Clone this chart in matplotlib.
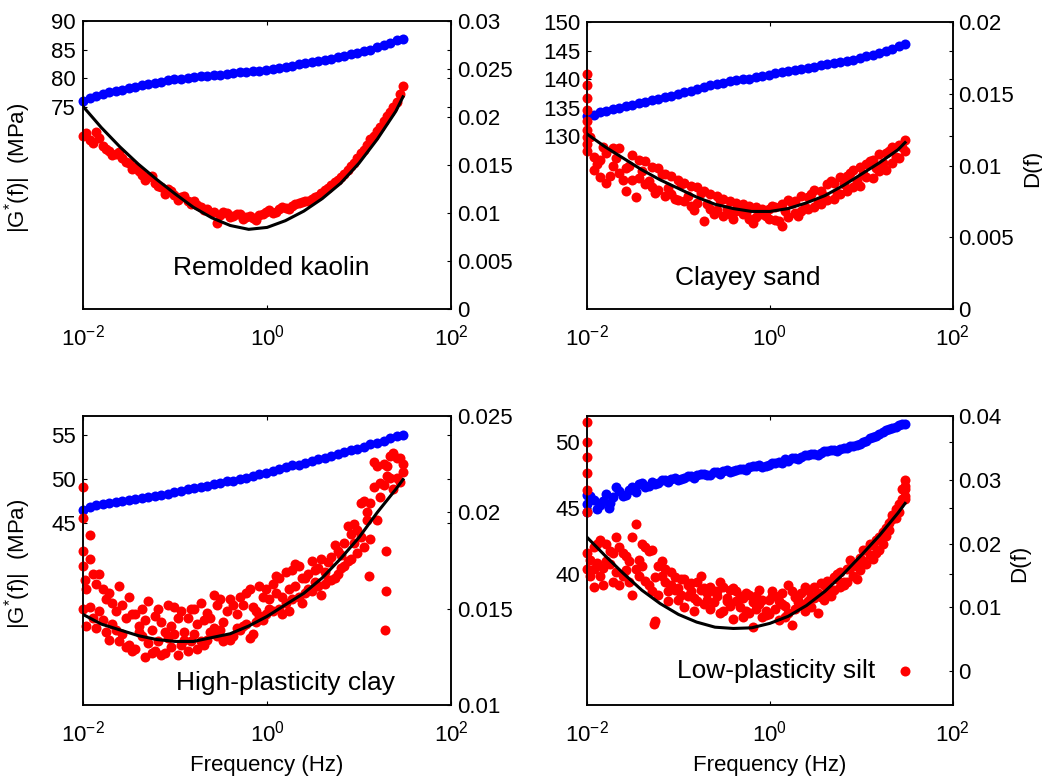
import matplotlib
matplotlib.use('Agg')
from matplotlib import pyplot as plt

plt.rcParams['font.family'] = ['Liberation Sans', 'DejaVu Sans']
plt.rcParams['mathtext.fontset'] = 'custom'
plt.rcParams['mathtext.rm'] = 'Liberation Sans'
plt.rcParams['mathtext.it'] = 'Liberation Sans:italic'

# frequency grid of the measurements (Hz)
freq = [0.0100, 0.0118, 0.0139, 0.0163, 0.0192, 0.0226, 0.0267, 0.0314, 0.0370, 0.0436,
        0.0513, 0.0604, 0.0711, 0.0838, 0.0986, 0.116, 0.137, 0.161, 0.190, 0.223,
        0.263, 0.310, 0.365, 0.430, 0.506, 0.596, 0.701, 0.826, 0.973, 1.15,
        1.35, 1.59, 1.87, 2.20, 2.59, 3.05, 3.60, 4.24, 4.99, 5.87,
        6.92, 8.15, 9.59, 11.3, 13.3, 15.7, 18.5, 21.7, 25.6, 30.0]
freq_mid = [0.01085, 0.01278, 0.01505, 0.01772, 0.02087, 0.02458, 0.02894, 0.03408, 0.04013, 0.04725,
            0.05564, 0.06552, 0.07716, 0.09086, 0.1070, 0.1260, 0.1484, 0.1747, 0.2058, 0.2423,
            0.2853, 0.3360, 0.3957, 0.4660, 0.5488, 0.6462, 0.7610, 0.8962, 1.055, 1.243,
            1.464, 1.724, 2.030, 2.391, 2.815, 3.315, 3.904, 4.597, 5.414, 6.376,
            7.508, 8.842, 10.41, 12.26, 14.44, 17.00, 20.02, 23.58, 27.77]
fit_freq = [0.01, 0.0158, 0.0251, 0.0398, 0.0631, 0.1, 0.158, 0.251, 0.398, 0.631,
            1.0, 1.58, 2.51, 3.98, 6.31, 10.0, 15.8, 25.1, 30.0]

names = ['Remolded kaolin', 'Clayey sand', 'High-plasticity clay', 'Low-plasticity silt']

# ---- Remolded kaolin
g1 = [76.0, 76.5, 76.9, 77.2, 77.5, 77.8, 78.0, 78.3, 78.5, 78.8, 79.0, 79.2, 79.4, 79.6, 79.8,
      79.9, 80.0, 80.2, 80.3, 80.4, 80.5, 80.6, 80.8, 80.9, 81.0, 81.1, 81.2, 81.3, 81.4, 81.6,
      81.8, 82.0, 82.2, 82.4, 82.6, 82.8, 83.0, 83.2, 83.4, 83.7, 83.9, 84.2, 84.4, 84.7, 85.0,
      85.4, 85.8, 86.2, 86.6, 86.8]
d1a = [0.0180, 0.0176, 0.0184, 0.0170, 0.0165, 0.0161, 0.0157, 0.0152, 0.0148, 0.0140,
       0.0137, 0.0131, 0.0127, 0.0125, 0.0119, 0.0117, 0.0112, 0.0113, 0.0106, 0.0104,
       0.0101, 0.0098, 0.0100, 0.0097, 0.0099, 0.0096, 0.0095, 0.0098, 0.0101, 0.0100,
       0.0104, 0.0105, 0.0107, 0.0110, 0.0112, 0.0115, 0.0118, 0.0124, 0.0129, 0.0134,
       0.0141, 0.0149, 0.0157, 0.0166, 0.0177, 0.0185, 0.0196, 0.0205, 0.0216, 0.0232]
d1b = [0.0183, 0.0173, 0.0178, 0.0167, 0.0160, 0.0164, 0.0153, 0.0146, 0.0144, 0.0134,
       0.0139, 0.0128, 0.0120, 0.0123, 0.0114, 0.0118, 0.0109, 0.0108, 0.0103, 0.0101,
       0.0090, 0.0101, 0.0096, 0.0099, 0.0094, 0.0097, 0.0093, 0.0099, 0.0103, 0.0101,
       0.0106, 0.0104, 0.0109, 0.0111, 0.0113, 0.0117, 0.0121, 0.0126, 0.0132, 0.0138,
       0.0145, 0.0152, 0.0162, 0.0171, 0.0180, 0.0190, 0.0201, 0.0210, 0.0224]
fit1 = [0.0211, 0.0189, 0.0169, 0.0151, 0.0135, 0.0120, 0.0106, 0.0095, 0.0087, 0.0083,
        0.0085, 0.0092, 0.0102, 0.0115, 0.0131, 0.0152, 0.0177, 0.0206, 0.0221]

# ---- Clayey sand
g2 = [133.6, 133.8, 134.2, 134.5, 134.7, 135.0, 135.3, 135.5, 135.8, 136.0, 136.3, 136.5,
      136.8, 137.1, 137.4, 137.7, 138.0, 138.3, 138.6, 138.9, 139.1, 139.4, 139.6, 139.8,
      140.0, 140.1, 140.3, 140.5, 140.8, 141.0, 141.2, 141.4, 141.6, 141.8, 142.0, 142.2,
      142.4, 142.6, 142.8, 143.0, 143.2, 143.4, 143.7, 144.0, 144.3, 144.6, 144.9, 145.3,
      145.8, 146.2]
d2a = [0.0110, 0.0097, 0.0104, 0.0088, 0.0112, 0.0095, 0.0082, 0.0107, 0.0091, 0.0103,
       0.0085, 0.0098, 0.0079, 0.0093, 0.0076, 0.0088, 0.0072, 0.0085, 0.0061, 0.0080,
       0.0069, 0.0077, 0.0066, 0.0074, 0.0066, 0.0072, 0.0064, 0.0070, 0.0063, 0.0071,
       0.0058, 0.0076, 0.0067, 0.0079, 0.0070, 0.0083, 0.0073, 0.0087, 0.0077, 0.0092,
       0.0082, 0.0097, 0.0086, 0.0101, 0.0091, 0.0108, 0.0097, 0.0113, 0.0105, 0.0118]
d2b = [0.0115, 0.0106, 0.0092, 0.0109, 0.0100, 0.0112, 0.0098, 0.0090, 0.0104, 0.0087,
       0.0099, 0.0083, 0.0094, 0.0080, 0.0090, 0.0075, 0.0086, 0.0074, 0.0082, 0.0070,
       0.0079, 0.0065, 0.0075, 0.0068, 0.0073, 0.0063, 0.0071, 0.0066, 0.0070, 0.0062,
       0.0073, 0.0064, 0.0075, 0.0068, 0.0078, 0.0071, 0.0082, 0.0076, 0.0088, 0.0080,
       0.0093, 0.0085, 0.0099, 0.0092, 0.0104, 0.0096, 0.0109, 0.0102, 0.0114, 0.0110]
d2c = [0.0120, 0.0101, 0.0113, 0.0093, 0.0105, 0.0090, 0.0100, 0.0078, 0.0096, 0.0089,
       0.0081, 0.0094, 0.0084, 0.0077, 0.0087, 0.0079, 0.0069, 0.0081, 0.0073, 0.0066,
       0.0076, 0.0070, 0.0063, 0.0072, 0.0067, 0.0060, 0.0069, 0.0065, 0.0072, 0.0061,
       0.0068, 0.0074, 0.0065, 0.0071, 0.0080, 0.0074, 0.0079, 0.0089, 0.0081, 0.0087,
       0.0095, 0.0089, 0.0094, 0.0103, 0.0098, 0.0102, 0.0110, 0.0106, 0.0113]
d2x_f = [0.01, 0.01, 0.01, 0.01, 0.01, 0.01, 0.01]
d2x = [0.0164, 0.0156, 0.0147, 0.0139, 0.0131, 0.0125, 0.0120]
fit2 = [0.0122, 0.0113, 0.0105, 0.0097, 0.0090, 0.0084, 0.0078, 0.0073, 0.0070, 0.0068,
        0.0068, 0.0070, 0.0074, 0.0079, 0.0086, 0.0094, 0.0102, 0.0111, 0.0116]

# ---- High-plasticity clay
g3 = [46.5, 46.8, 47.0, 47.1, 47.3, 47.4, 47.5, 47.6, 47.7, 47.8, 47.9, 48.1, 48.2, 48.3,
      48.5, 48.6, 48.8, 48.9, 49.1, 49.2, 49.4, 49.5, 49.7, 49.8, 50.0, 50.1, 50.3, 50.5,
      50.7, 50.9, 51.1, 51.3, 51.5, 51.6, 51.8, 52.0, 52.2, 52.4, 52.6, 52.8, 53.0, 53.2,
      53.4, 53.6, 53.9, 54.1, 54.3, 54.6, 54.8, 55.0]
d3a = [0.0172, 0.0151, 0.0163, 0.0144, 0.0158, 0.0139, 0.0152, 0.0131, 0.0147, 0.0136,
       0.0154, 0.0128, 0.0143, 0.0135, 0.0151, 0.0131, 0.0145, 0.0137, 0.0153, 0.0134,
       0.0157, 0.0139, 0.0149, 0.0136, 0.0156, 0.0142, 0.0151, 0.0146, 0.0160, 0.0149,
       0.0166, 0.0153, 0.0170, 0.0156, 0.0166, 0.0159, 0.0171, 0.0163, 0.0177, 0.0168,
       0.0184, 0.0176, 0.0191, 0.0182, 0.0205, 0.0196, 0.0225, 0.0218, 0.0228, 0.0221]
d3b = [0.0150, 0.0176, 0.0140, 0.0160, 0.0134, 0.0149, 0.0137, 0.0156, 0.0129, 0.0150,
       0.0132, 0.0146, 0.0126, 0.0152, 0.0137, 0.0149, 0.0128, 0.0150, 0.0133, 0.0148,
       0.0140, 0.0155, 0.0135, 0.0152, 0.0139, 0.0158, 0.0137, 0.0162, 0.0147, 0.0163,
       0.0150, 0.0169, 0.0155, 0.0172, 0.0158, 0.0175, 0.0162, 0.0169, 0.0165, 0.0180,
       0.0172, 0.0189, 0.0179, 0.0206, 0.0186, 0.0224, 0.0214, 0.0229, 0.0218, 0.0225]
d3c = [0.0160, 0.0145, 0.0168, 0.0138, 0.0153, 0.0133, 0.0145, 0.0128, 0.0141, 0.0125,
       0.0139, 0.0133, 0.0127, 0.0141, 0.0126, 0.0138, 0.0133, 0.0142, 0.0131, 0.0145,
       0.0136, 0.0143, 0.0134, 0.0147, 0.0141, 0.0135, 0.0149, 0.0144, 0.0155, 0.0158,
       0.0147, 0.0160, 0.0162, 0.0153, 0.0168, 0.0164, 0.0157, 0.0174, 0.0166, 0.0178,
       0.0175, 0.0194, 0.0187, 0.0200, 0.0213, 0.0208, 0.0219, 0.0231, 0.0216]
d3d = [0.0141, 0.0168, 0.0149, 0.0155, 0.0142, 0.0162, 0.0130, 0.0147, 0.0138, 0.0144,
       0.0127, 0.0150, 0.0138, 0.0130, 0.0145, 0.0134, 0.0150, 0.0129, 0.0144, 0.0138,
       0.0152, 0.0133, 0.0155, 0.0140, 0.0152, 0.0160, 0.0143, 0.0156, 0.0150, 0.0167,
       0.0156, 0.0149, 0.0173, 0.0166, 0.0160, 0.0170, 0.0176, 0.0165, 0.0183, 0.0171,
       0.0193, 0.0184, 0.0205, 0.0196, 0.0226, 0.0215, 0.0224, 0.0212, 0.0228]
d3x_f = [0.01, 0.01, 0.01, 0.0106, 0.0118, 12.7, 19.4, 19.2, 19.6]
d3x = [0.0213, 0.0197, 0.0180, 0.0165, 0.0188, 0.0167, 0.0159, 0.0139, 0.0180]
fit3 = [0.0147, 0.0142, 0.0139, 0.0136, 0.0134, 0.0133, 0.0133, 0.0135, 0.0137, 0.0141,
        0.0146, 0.0152, 0.0158, 0.0166, 0.0176, 0.0187, 0.0200, 0.0212, 0.0217]

# ---- Low-plasticity silt
g4a = [45.3, 45.6, 45.2, 46.1, 45.8, 46.3, 46.0, 46.6, 46.8, 46.6, 47.0, 46.9, 47.1, 47.2,
       47.1, 47.3, 47.4, 47.5, 47.6, 47.5, 47.7, 47.8, 47.7, 47.9, 48.0, 48.1, 48.2, 48.1,
       48.3, 48.4, 48.4, 48.6, 48.8, 48.9, 49.0, 49.1, 49.2, 49.3, 49.4, 49.5, 49.6, 49.7,
       49.9, 50.1, 50.4, 50.6, 50.9, 51.1, 51.3, 51.4]
g4b = [45.9, 44.9, 45.5, 45.4, 46.6, 45.9, 46.4, 46.2, 46.9, 46.7, 46.8, 47.1, 47.0, 47.3,
       47.2, 47.4, 47.3, 47.6, 47.5, 47.7, 47.6, 47.9, 47.8, 48.0, 47.9, 48.2, 48.3, 48.2,
       48.4, 48.5, 48.7, 48.8, 48.7, 49.0, 49.1, 49.0, 49.3, 49.4, 49.3, 49.6, 49.7, 49.8,
       50.0, 50.3, 50.5, 50.8, 51.0, 51.2, 51.4]
g4x_f = [0.01, 0.01, 0.0173]
g4x = [44.7, 46.0, 45.0]
d4a = [0.0185, 0.0160, 0.0205, 0.0172, 0.0140, 0.0195, 0.0158, 0.0210, 0.0175, 0.0142,
       0.0190, 0.0120, 0.0160, 0.0135, 0.0112, 0.0145, 0.0125, 0.0140, 0.0105, 0.0132,
       0.0118, 0.0095, 0.0128, 0.0110, 0.0085, 0.0120, 0.0098, 0.0112, 0.0090, 0.0118,
       0.0105, 0.0135, 0.0098, 0.0122, 0.0110, 0.0132, 0.0117, 0.0142, 0.0128, 0.0155,
       0.0140, 0.0168, 0.0158, 0.0190, 0.0176, 0.0210, 0.0225, 0.0238, 0.0262, 0.0290]
d4b = [0.0160, 0.0195, 0.0150, 0.0200, 0.0185, 0.0135, 0.0180, 0.0120, 0.0150, 0.0195,
       0.0125, 0.0165, 0.0140, 0.0155, 0.0130, 0.0100, 0.0138, 0.0110, 0.0130, 0.0098,
       0.0125, 0.0132, 0.0102, 0.0125, 0.0115, 0.0092, 0.0118, 0.0085, 0.0112, 0.0098,
       0.0122, 0.0092, 0.0116, 0.0105, 0.0128, 0.0115, 0.0138, 0.0125, 0.0148, 0.0132,
       0.0160, 0.0150, 0.0178, 0.0168, 0.0198, 0.0190, 0.0212, 0.0245, 0.0250, 0.0275]
d4c = [0.0175, 0.0200, 0.0162, 0.0188, 0.0210, 0.0150, 0.0172, 0.0230, 0.0165, 0.0188,
       0.0148, 0.0172, 0.0125, 0.0148, 0.0120, 0.0135, 0.0115, 0.0150, 0.0122, 0.0108,
       0.0140, 0.0115, 0.0130, 0.0100, 0.0122, 0.0108, 0.0128, 0.0095, 0.0125, 0.0110,
       0.0085, 0.0125, 0.0108, 0.0132, 0.0100, 0.0122, 0.0135, 0.0118, 0.0145, 0.0135,
       0.0162, 0.0145, 0.0172, 0.0200, 0.0185, 0.0218, 0.0232, 0.0255, 0.0270]
d4d = [0.0150, 0.0170, 0.0135, 0.0168, 0.0155, 0.0185, 0.0140, 0.0160, 0.0200, 0.0135,
       0.0078, 0.0150, 0.0110, 0.0128, 0.0145, 0.0118, 0.0095, 0.0128, 0.0112, 0.0125,
       0.0092, 0.0110, 0.0082, 0.0118, 0.0095, 0.0070, 0.0105, 0.0088, 0.0118, 0.0080,
       0.0102, 0.0072, 0.0112, 0.0095, 0.0118, 0.0092, 0.0112, 0.0128, 0.0152, 0.0140,
       0.0175, 0.0165, 0.0190, 0.0182, 0.0205, 0.0200, 0.0222, 0.0240, 0.0285]
d4x_f = [0.01, 0.01, 0.01, 0.01, 0.01, 0.01, 30.0, 30.0, 30.0, 30.0, 0.0118, 0.054]
d4x = [0.0391, 0.0359, 0.0335, 0.0310, 0.0284, 0.0250, 0.0, 0.0299, 0.0285, 0.0270, 0.0132, 0.0074]
fit4 = [0.0210, 0.0181, 0.0153, 0.0127, 0.0106, 0.0089, 0.0077, 0.0069, 0.0067, 0.0068,
        0.0075, 0.0086, 0.0103, 0.0125, 0.0152, 0.0182, 0.0213, 0.0248, 0.0263]

# axis settings per panel
g_lims = [(39.6, 90), (99.8, 150), (24.4, 57.1), (30, 52)]
g_ticks = [[75, 80, 85, 90], [130, 135, 140, 145, 150], [45, 50, 55], [40, 45, 50]]
d_lims = [(0, 0.03), (0, 0.02), (0.01, 0.025), (-0.0053, 0.04)]
d_ticks = [[0, 0.005, 0.01, 0.015, 0.02, 0.025, 0.03], [0, 0.005, 0.01, 0.015, 0.02],
           [0.01, 0.015, 0.02, 0.025], [0, 0.01, 0.02, 0.03, 0.04]]
text_pos = [(0.511, 0.142), (0.44, 0.108), (0.549, 0.075), (0.516, 0.118)]
dlabel_x = {1: 1.189, 3: 1.153}

g_sets = [[(freq, g1)], [(freq, g2)], [(freq, g3)], [(freq, g4a), (freq_mid, g4b), (g4x_f, g4x)]]
d_sets = [[(freq, d1a), (freq_mid, d1b)],
          [(freq, d2a), (freq, d2b), (freq_mid, d2c), (d2x_f, d2x)],
          [(freq, d3a), (freq, d3b), (freq_mid, d3c), (freq_mid, d3d), (d3x_f, d3x)],
          [(freq, d4a), (freq, d4b), (freq_mid, d4c), (freq_mid, d4d), (d4x_f, d4x)]]
fits = [fit1, fit2, fit3, fit4]

fig = plt.figure(figsize=(10.42, 7.78), dpi=100)
boxes = [[0.0797, 0.6028, 0.3532, 0.3702], [0.5633, 0.6028, 0.3512, 0.3689],
         [0.0797, 0.0938, 0.3532, 0.3715], [0.5633, 0.0938, 0.3512, 0.3715]]

for i in range(4):
    ax = fig.add_axes(boxes[i])
    ax2 = ax.twinx()
    for fx, gy in g_sets[i]:
        ax.plot(fx, gy, 'o', color='#0000ff', ms=7.2, mec='none', clip_on=False)
    for fx, dy in d_sets[i]:
        ax2.plot(fx, dy, 'o', color='#ff0000', ms=7.2, mec='none', clip_on=False)
    ax2.plot(fit_freq, fits[i], '-', color='black', lw=2.2)

    ax.set_xscale('log')
    ax.set_xlim(1e-2, 1e2)
    ax.set_xticks([1e-2, 1e0, 1e2])
    ax.minorticks_off()
    ax2.minorticks_off()
    ax.set_ylim(g_lims[i])
    ax.set_yticks(g_ticks[i])
    ax2.set_ylim(d_lims[i])
    ax2.set_yticks(d_ticks[i])
    ax2.set_yticklabels(['%g' % v for v in d_ticks[i]])

    ax.tick_params(axis='y', direction='in', length=3, width=0.8, labelsize=16,
                   left=True, right=True, labelright=False, pad=5)
    ax.tick_params(axis='x', direction='in', length=3, width=0.8, labelsize=16,
                   top=True, pad=11)
    ax2.tick_params(axis='y', direction='in', length=3, width=0.8, labelsize=16,
                    left=False, right=True, pad=4)
    for a in (ax, ax2):
        for s in a.spines.values():
            s.set_linewidth(1.1)

    ax.text(text_pos[i][0], text_pos[i][1], names[i], transform=ax.transAxes,
            ha='center', va='center', fontsize=19)

    if i % 2 == 0:
        ax.set_ylabel('|G$^{*}$(f)|  (MPa)', fontsize=16)
        ax.yaxis.set_label_coords(-0.136, 0.49)
    else:
        ax2.set_ylabel('D(f)', fontsize=16)
        ax2.yaxis.set_label_coords(dlabel_x[i], 0.49)
    if i >= 2:
        ax.set_xlabel('Frequency (Hz)', fontsize=16, labelpad=6)

fig.savefig('out.png', dpi=100)
